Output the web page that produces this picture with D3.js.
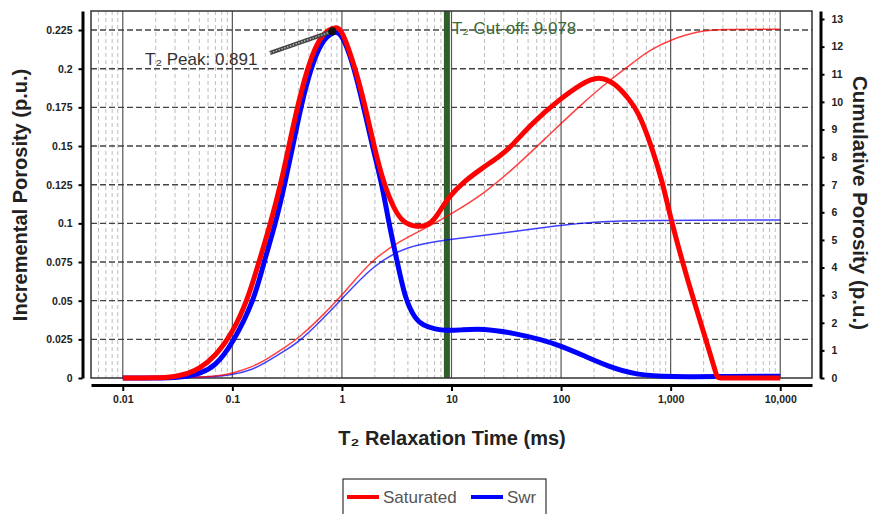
<!DOCTYPE html>
<html>
<head>
<meta charset="utf-8">
<script src="https://cdn.jsdelivr.net/npm/d3@7/dist/d3.min.js"></script>
<style>
  html, body { margin: 0; padding: 0; background: #fff; }
  svg { display: block; font-family: "Liberation Sans", Arial, sans-serif; }
</style>
</head>
<body>
<svg id="chart" width="875" height="514"></svg>
<script>
// ---------- DATA ----------
// T2 relaxation time (ms) / incremental porosity (p.u.) - Saturated
const satT   = [0.01, 0.02, 0.03, 0.04, 0.05, 0.07, 0.1, 0.137, 0.175, 0.223, 0.276, 0.328, 0.391, 0.482, 0.6, 0.75, 0.891, 1.0, 1.33, 1.64, 1.96, 2.42, 3.0, 3.6, 4.87, 6.0, 7.17, 9.3, 13.5, 19, 27, 33.4, 54, 95, 155, 220, 314, 420, 510, 680, 840, 1000, 1280, 1620, 2080, 2660, 2700, 4000, 10000];
const satInc = [0, 0, 0.0008, 0.003, 0.006, 0.014, 0.029, 0.05, 0.075, 0.1, 0.125, 0.15, 0.175, 0.2, 0.218, 0.2255, 0.227, 0.2255, 0.2, 0.175, 0.15, 0.125, 0.109, 0.1005, 0.0975, 0.0985, 0.103, 0.117, 0.128, 0.1356, 0.143, 0.148, 0.1647, 0.1797, 0.1905, 0.1955, 0.1905, 0.18, 0.172, 0.1485, 0.127, 0.1033, 0.0752, 0.0504, 0.0257, 0, 0, 0, 0];
// Swr incremental
const swrT   = [0.01, 0.03, 0.04, 0.05, 0.07, 0.1, 0.158, 0.194, 0.248, 0.30, 0.357, 0.42, 0.518, 0.65, 0.85, 1.0, 1.33, 1.89, 2.33, 2.68, 3.2, 3.81, 4.69, 5.5, 7.17, 8.8, 12, 19, 38.4, 67, 95, 156, 273, 478, 1000, 3000, 10000];
const swrInc = [0, 0, 0.0012, 0.0028, 0.0075, 0.022, 0.05, 0.075, 0.1, 0.125, 0.15, 0.175, 0.2, 0.218, 0.2245, 0.223, 0.199, 0.15, 0.125, 0.1, 0.075, 0.05, 0.038, 0.034, 0.0315, 0.0306, 0.031, 0.0321, 0.0289, 0.0246, 0.0213, 0.0149, 0.0073, 0.002, 0.0006, 0.001, 0.0012];
// Cumulative porosity (p.u.)
const satCumT = [0.01, 0.05, 0.075, 0.1, 0.152, 0.2, 0.306, 0.407, 0.617, 1.0, 1.16, 1.89, 3.31, 6.67, 9.5, 19, 38.4, 77, 156, 290, 450, 634, 1000, 1800, 3000, 10000];
const satCum  = [0, 0.02, 0.08, 0.17, 0.4, 0.65, 1.12, 1.47, 2.12, 3.0, 3.3, 4.28, 4.95, 5.55, 5.9, 6.62, 7.64, 8.79, 9.94, 10.85, 11.4, 11.87, 12.25, 12.57, 12.63, 12.63];
const swrCumT = [0.01, 0.05, 0.1, 0.152, 0.2, 0.306, 0.407, 0.617, 1.0, 1.89, 3.8, 9.5, 27, 95, 220, 500, 10000];
const swrCum  = [0, 0.01, 0.1, 0.3, 0.55, 1.0, 1.32, 2.0, 2.86, 4.05, 4.78, 5.02, 5.23, 5.53, 5.67, 5.71, 5.72];

const cutoffT = 9.078;
const peakT = 0.891;
const peakV = 0.2255;

const xTicks = [0.01, 0.1, 1, 10, 100, 1000, 10000];
const xTickLabels = ["0.01", "0.1", "1", "10", "100", "1,000", "10,000"];
const yLeftTicks = [0, 0.025, 0.05, 0.075, 0.1, 0.125, 0.15, 0.175, 0.2, 0.225];
const yLeftTickLabels = ["0", "0.025", "0.05", "0.075", "0.1", "0.125", "0.15", "0.175", "0.2", "0.225"];
const yRightTicks = [0,1,2,3,4,5,6,7,8,9,10,11,12,13];
const seriesNames = ["Saturated", "Swr"];
const seriesColors = ["#ff0000", "#0000ff"];

// ---------- LAYOUT ----------
const L = 91, R = 812, T = 11, B = 378;
const svg = d3.select("#chart");

const x = d3.scaleLog().domain([Math.pow(10, -2.29), Math.pow(10, 4.29)]).range([L, R]);
const yL = d3.scaleLinear().domain([0, 0.2373]).range([B, T]);
const yR = d3.scaleLinear().domain([0, 13.29]).range([B, T]);

// minor vertical grid
const minor = [];
for (let e = -3; e <= 3; e++) {
  for (let m = 2; m <= 9; m++) {
    const v = m * Math.pow(10, e);
    if (v > x.domain()[0] && v < 10000) minor.push(v);
  }
}
svg.append("g").selectAll("line").data(minor).join("line")
  .attr("x1", d => x(d)).attr("x2", d => x(d)).attr("y1", T).attr("y2", B)
  .attr("stroke", "#bdbdbd").attr("stroke-width", 1).attr("stroke-dasharray", "4,3");

// major vertical grid
svg.append("g").selectAll("line").data(xTicks).join("line")
  .attr("x1", d => x(d)).attr("x2", d => x(d)).attr("y1", T).attr("y2", B)
  .attr("stroke", "#555").attr("stroke-width", 1.2);

// horizontal grid
svg.append("g").selectAll("line").data(yLeftTicks.filter(d => d > 0)).join("line")
  .attr("x1", L).attr("x2", R).attr("y1", d => yL(d)).attr("y2", d => yL(d))
  .attr("stroke", "#444").attr("stroke-width", 1.4).attr("stroke-dasharray", "6,3");

// cutoff line
svg.append("line")
  .attr("x1", x(cutoffT)).attr("x2", x(cutoffT)).attr("y1", T).attr("y2", B)
  .attr("stroke", "#2f5e2b").attr("stroke-width", 6);

// frame
svg.append("rect").attr("x", L).attr("y", T).attr("width", R - L).attr("height", B - T)
  .attr("fill", "none").attr("stroke", "#333").attr("stroke-width", 1.5);

// ---------- CURVES ----------
const lineInc = d3.line().x(d => x(d[0])).y(d => yL(d[1])).curve(d3.curveBasis);
const lineCum = d3.line().x(d => x(d[0])).y(d => yR(d[1])).curve(d3.curveBasis);

svg.append("path").datum(d3.zip(swrCumT, swrCum)).attr("d", lineCum)
  .attr("fill", "none").attr("stroke", "#0000ff").attr("stroke-opacity", 0.75).attr("stroke-width", 1.5);
svg.append("path").datum(d3.zip(satCumT, satCum)).attr("d", lineCum)
  .attr("fill", "none").attr("stroke", "#ff0000").attr("stroke-opacity", 0.75).attr("stroke-width", 1.5);

svg.append("path").datum(d3.zip(swrT, swrInc)).attr("d", lineInc)
  .attr("fill", "none").attr("stroke", "#0000ff").attr("stroke-width", 5).attr("stroke-linejoin", "round");
svg.append("path").datum(d3.zip(satT, satInc)).attr("d", lineInc)
  .attr("fill", "none").attr("stroke", "#ff0000").attr("stroke-width", 5).attr("stroke-linejoin", "round");

// ---------- AXES ----------
function styleAxis(g) {
  g.select(".domain").attr("stroke", "#000").attr("stroke-width", 3);
  g.selectAll(".tick line").attr("stroke", "#000").attr("stroke-width", 2);
  g.selectAll(".tick text").attr("fill", "#222").attr("font-weight", "bold")
    .attr("font-size", "10.5px").attr("font-family", "'Liberation Sans', Arial, sans-serif");
}
svg.append("g").attr("transform", "translate(82.5,0)")
  .call(d3.axisLeft(yL).tickValues(yLeftTicks).tickFormat((d, i) => yLeftTickLabels[i]).tickSize(4).tickSizeOuter(0).tickPadding(6))
  .call(styleAxis);
svg.append("g").attr("transform", `translate(0,385)`)
  .call(d3.axisBottom(x).tickValues(xTicks).tickFormat((d, i) => xTickLabels[i]).tickSize(6).tickSizeOuter(0).tickPadding(5))
  .call(styleAxis);
svg.append("g").attr("transform", "translate(820.5,0)")
  .call(d3.axisRight(yR).tickValues(yRightTicks).tickFormat(d => String(d)).tickSize(4).tickSizeOuter(0).tickPadding(7))
  .call(styleAxis);

// ---------- TITLES ----------
svg.append("text").attr("x", 452).attr("y", 445).attr("text-anchor", "middle")
  .attr("font-weight", "bold").attr("font-size", "20px").attr("fill", "#222").text("T₂ Relaxation Time (ms)");
svg.append("text").attr("transform", "translate(27,195) rotate(-90)").attr("text-anchor", "middle")
  .attr("font-weight", "bold").attr("font-size", "20px").attr("fill", "#222").text("Incremental Porosity (p.u.)");
svg.append("text").attr("transform", "translate(853,203) rotate(90)").attr("text-anchor", "middle")
  .attr("font-weight", "bold").attr("font-size", "20.5px").attr("fill", "#222").text("Cumulative Porosity (p.u.)");

// cutoff label
svg.append("text").attr("x", x(cutoffT) + 5).attr("y", 34)
  .attr("font-size", "17px").attr("fill", "#3b6b35").text("T₂ Cut-off: " + cutoffT.toFixed(3));

// peak annotation
const px = x(peakT) - 4, py = yL(peakV) + 2;
svg.append("line").attr("x1", 270).attr("y1", 53).attr("x2", px).attr("y2", py)
  .attr("stroke", "#444").attr("stroke-width", 4);
svg.append("line").attr("x1", 270).attr("y1", 53).attr("x2", px).attr("y2", py)
  .attr("stroke", "#ccc").attr("stroke-width", 1.2).attr("stroke-dasharray", "1.5,1.5");
svg.append("circle").attr("cx", px).attr("cy", py).attr("r", 4).attr("fill", "#111");
svg.append("text").attr("x", 145).attr("y", 65)
  .attr("font-size", "17px").attr("fill", "#333").text("T₂ Peak: " + peakT.toFixed(3));

// ---------- LEGEND ----------
const lg = svg.append("g");
lg.append("rect").attr("x", 343).attr("y", 479).attr("width", 203).attr("height", 45)
  .attr("fill", "#fff").attr("stroke", "#333").attr("stroke-width", 1.2);
const legX = [347, 471];
seriesNames.forEach((n, i) => {
  lg.append("line").attr("x1", legX[i]).attr("x2", legX[i] + 32).attr("y1", 497).attr("y2", 497)
    .attr("stroke", seriesColors[i]).attr("stroke-width", 4);
  lg.append("text").attr("x", legX[i] + 36).attr("y", 503).attr("font-size", "17px")
    .attr("fill", "#555").text(n);
});
</script>
</body>
</html>
